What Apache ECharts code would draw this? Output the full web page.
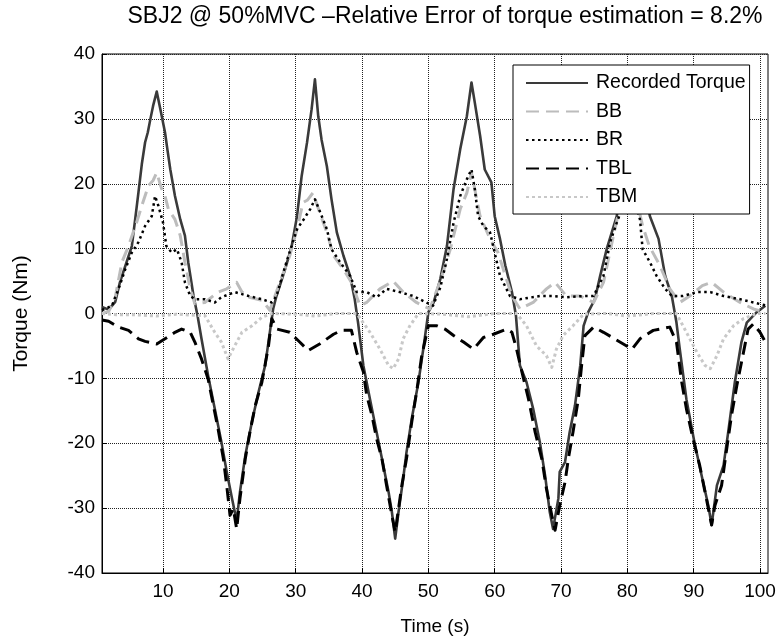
<!DOCTYPE html>
<html>
<head>
<meta charset="utf-8">
<script src="https://cdn.jsdelivr.net/npm/echarts@6/dist/echarts.min.js"></script>
<style>html,body{margin:0;padding:0;background:#fff;}#chart{width:779px;height:641px;}</style>
</head>
<body>
<div id="chart"></div>
<script>
// ---- data: [time (s), torque (Nm)] ----
const titleText = 'SBJ2 @ 50%MVC \u2013Relative Error of torque estimation = 8.2%';
const xTicks = [10, 20, 30, 40, 50, 60, 70, 80, 90, 100];
const seriesNames = ['Recorded Torque', 'BB', 'BR', 'TBL', 'TBM'];

const recordedTorque = [[0.8,1.0],[1.8,0.6],[2.8,1.8],[3.5,4.8],[4.5,7.9],[5.3,10.4],[5.8,14.5],[6.3,18.7],[6.8,23],[7.3,26.4],[7.7,27.9],[8.1,30],[8.5,32],[9.05,34.2],[9.6,31.5],[10.3,27.9],[10.7,25],[11.1,22.2],[11.8,18.1],[12.6,14.5],[13.3,12.0],[13.8,7.9],[14.6,2.7],[15.2,-0.3],[15.8,-3.9],[16.8,-9.6],[17.8,-14.7],[18.8,-19.8],[19.6,-24.4],[20.4,-28.5],[21.1,-32],[21.6,-27.5],[22.4,-21.9],[23.4,-16.7],[24.4,-12.1],[25.4,-8.0],[26.1,-2.9],[26.6,0.7],[27.1,2.7],[28.4,6.8],[29.4,10.4],[30.2,15],[30.9,21.2],[31.7,26.3],[32.4,31.5],[32.9,36.1],[33.4,30.4],[33.9,26.8],[34.7,22.7],[35.4,17.6],[36.2,12.5],[37.2,8.9],[38.2,5.8],[38.9,2.2],[39.4,-1.4],[40.2,-8],[41.2,-13.2],[42.2,-18.3],[43.2,-23.4],[44,-27.5],[44.5,-30.6],[45.0,-34.7],[45.5,-30.6],[46.2,-25.5],[46.7,-21.4],[47.5,-16.2],[48.5,-10.6],[49.3,-5.0],[50,0.2],[50.8,1.7],[51.8,5.3],[52.8,10.4],[53.8,19.2],[54.8,25.3],[55.8,30.4],[56.5,35.6],[57.0,32.5],[57.8,27.4],[58.5,22.2],[59.5,20.2],[60.0,15],[60.8,11.5],[61.6,7.4],[62.6,3.3],[63.2,-0.3],[63.8,-8],[64.8,-10.6],[65.8,-14.7],[66.8,-19.8],[67.6,-25],[68.3,-30.6],[68.8,-33.2],[69.6,-28.5],[69.8,-24.4],[70.6,-22.9],[71.3,-18.3],[72.1,-14.2],[72.9,-8],[73.4,-1.9],[74.1,0.2],[75.1,2.2],[75.9,5.8],[76.9,10],[78.4,15],[79.4,22],[80.0,28],[80.8,33.5],[81.5,28],[82.4,20],[83.4,15],[84.7,11.5],[85.7,5.8],[86.7,2.7],[87.4,-1.4],[87.9,-5.5],[88.9,-13.2],[90.1,-19.8],[91.2,-25],[92.2,-29.6],[92.7,-32.6],[93.5,-26.5],[94.5,-23.4],[95.2,-18.3],[96.2,-10.6],[97.2,-4.4],[98,-1.4],[99.5,0.2],[100.8,1.2]];

const bb = [[0.8,0],[1.8,0.3],[2.8,2.5],[3.8,7.9],[4.8,10.4],[6,14],[6.8,16.6],[7.8,19.7],[8.5,20.5],[9.05,21.7],[9.8,19.2],[10.3,18.1],[10.8,16.1],[11.8,14.5],[12.6,12],[13.3,7.9],[14.1,3.8],[14.8,1.5],[16.3,1.7],[18.3,3.3],[19.6,3.8],[21.1,4.8],[21.9,3.3],[23,2.5],[25,2],[26.1,0.5],[27.6,4.8],[29.1,8.9],[30.2,13],[31.1,17.1],[31.8,17.5],[32.6,18.6],[33.6,15.6],[34.7,12.5],[35.7,8.9],[37.2,6.8],[38.4,4.8],[39.7,1.2],[40.7,1.7],[42.7,3.8],[44.7,5.0],[46.2,3.3],[48.2,1.7],[50.2,0.7],[51.8,5],[53.3,9.9],[54.8,16.1],[55.8,18.6],[56.5,21.7],[57.8,15],[59.3,11.5],[60.5,9.4],[61.3,6.8],[62.6,2.7],[63.8,0.7],[65.8,1.7],[67.8,3.8],[69.1,4.8],[70.8,2.7],[72.9,2.7],[74.9,1.7],[76.4,4.8],[77.9,12],[79,17],[80.5,20],[81.5,17],[82.3,13.5],[83.3,10.4],[84.9,7.4],[86.4,3.8],[87.9,1.7],[89.4,2.7],[91.3,4.3],[92.7,4.8],[94.5,3.3],[97,1.7],[99,0.7],[100.8,0.2]];

const br = [[0.8,0.5],[2.3,1.2],[3.3,3.8],[4.3,6.8],[5.3,9.4],[6.3,11],[7.3,13.5],[8.3,15],[8.8,18.1],[9.3,16.6],[10.0,14],[10.5,10.4],[11.3,9.4],[12.1,9.9],[12.8,7.9],[13.3,4.8],[14.1,2.7],[14.8,2.2],[16.3,2.2],[17.8,1.7],[18.8,2.5],[20.8,3.3],[22.9,2.7],[24.9,2.2],[26.4,1.7],[27.1,2.7],[28.6,7.9],[30.2,13],[31.2,14.5],[32.2,16.1],[32.9,17.6],[33.7,15.6],[34.7,13],[35.4,9.9],[36.7,7.9],[38.2,5.8],[39.2,3.3],[40.7,3.3],[42.2,2.5],[43.7,3.8],[45.7,3.3],[47.7,2.7],[49.7,1.7],[50.7,1.2],[51.8,4],[52.8,8.4],[53.8,14],[54.8,18.1],[55.8,20.7],[56.5,22.2],[57.0,19.2],[57.5,15],[58.3,13.5],[59.3,12.5],[60.1,8.9],[60.8,5.8],[62.3,2.7],[63.8,2.2],[66.8,2.7],[68.8,2.7],[70.8,2.5],[73.4,2.7],[74.9,2.7],[76.4,5.8],[77.4,11],[78.4,14],[79.5,17],[80.3,19],[81.2,17],[81.9,14.5],[82.3,9.9],[83.4,7.9],[84.4,5.8],[85.7,3.8],[86.7,2.7],[88.4,2.7],[90.5,3.3],[92.5,3.3],[94.5,2.7],[97,2.2],[99,1.7],[101,1.2]];

const tbl = [[0.8,-1],[1.8,-1.2],[3.3,-2.1],[4.8,-2.6],[6.3,-3.9],[7.3,-4.3],[9.05,-4.7],[10.3,-3.9],[11.8,-2.9],[12.8,-2.4],[14.1,-2.9],[14.8,-4.4],[15.8,-7],[16.8,-10.1],[17.5,-13.7],[18.3,-17.8],[19.1,-22.4],[19.6,-26.5],[20.1,-31.1],[20.6,-30.1],[21.1,-33.2],[21.6,-28.5],[22.4,-22.4],[23.1,-18.3],[23.9,-14.2],[24.9,-10.6],[25.9,-5],[26.4,-0.8],[27.2,-2.4],[29.1,-2.9],[30.6,-4.4],[31.9,-5.7],[33.6,-4.7],[35.7,-3.2],[36.9,-2.6],[38.4,-2.6],[39.2,-6],[40.2,-9],[40.7,-12.6],[41.5,-15.7],[42.2,-19.3],[43,-22.4],[43.7,-26.5],[44.5,-31.1],[45.0,-33.7],[45.5,-30.1],[46,-26.5],[46.7,-22.4],[47.5,-16.7],[48.3,-11.6],[49,-6.5],[50,-1.9],[51.3,-1.9],[52.5,-2.4],[53.8,-3.4],[55.3,-4.4],[56.8,-5.5],[58.3,-3.7],[59.8,-3.2],[61.8,-2.4],[62.6,-2.9],[63.3,-5.5],[64.1,-9],[65.1,-13.2],[66.1,-18.3],[67.1,-22.4],[67.8,-27],[68.6,-31.1],[69.1,-33.4],[69.8,-29.6],[70.6,-26],[71.1,-22.4],[71.8,-18.3],[72.6,-13.2],[73.1,-8],[73.6,-3.4],[74.9,-2.1],[76.4,-2.9],[77.9,-3.8],[79.9,-5],[80.7,-5.5],[81.9,-3.9],[83.9,-2.6],[86.4,-2.1],[87.4,-4.4],[88.2,-10.6],[88.9,-14.7],[89.9,-19.3],[90.9,-23.4],[91.9,-28.5],[92.7,-32.6],[93.2,-29.6],[94.2,-26.5],[94.9,-21.4],[95.7,-15.7],[96.5,-11.1],[97.5,-6],[98.2,-2.4],[99,-1.6],[100,-2.9],[100.8,-4.4]];

const tbm = [[0.8,0],[3,-0.2],[6,-0.2],[9,-0.4],[12,-0.1],[15.3,-0.3],[16.3,-0.3],[17.8,-2.9],[18.8,-4.4],[19.8,-7],[20.8,-5],[21.9,-2.9],[23.4,-1.9],[24.9,-0.6],[26.4,0],[30,-0.1],[33,-0.4],[36,0],[39.2,0],[41.2,-2.9],[42.7,-5.5],[44,-8],[44.7,-8.5],[45.5,-7],[46.2,-3.9],[47.2,-1.9],[48.5,0],[52,-0.1],[56,-0.5],[60,0],[63.3,0],[64.8,-1.9],[66.3,-5],[67.8,-6.5],[68.6,-8.3],[69.3,-5.5],[70.3,-3.4],[71.8,-1.9],[73.4,-0.1],[77,0],[80,-0.4],[84,0],[87.4,0],[88.9,-2.9],[90.5,-6],[91.7,-8],[92.5,-8.5],[93.5,-6.5],[94.5,-3.9],[96,-1.9],[97.5,-0.8],[99.5,0],[100.8,0]];

const FONT = '"Liberation Sans", Arial, sans-serif';
const chart = echarts.init(document.getElementById('chart'), null, {renderer: 'canvas'});

function mk(name, data, color, width, type) {
  return {
    name: name, type: 'line', data: data, symbol: 'none', showSymbol: false,
    animation: false, silent: true,
    lineStyle: {color: color, width: width, type: type, cap: 'butt', join: 'round'},
    itemStyle: {color: color}
  };
}

chart.setOption({
  backgroundColor: '#fff',
  animation: false,
  title: {
    text: titleText, left: 440, top: 0, textAlign: 'center',
    textStyle: {fontFamily: FONT, fontSize: 23, fontWeight: 'normal', color: '#000'}
  },
  grid: {left: 102, right: 11, top: 54, bottom: 67, show: true, borderColor: '#000', borderWidth: 1, backgroundColor: '#fff'},
  legend: {
    orient: 'vertical', left: 513, top: 65,
    data: seriesNames,
    backgroundColor: '#fff', borderColor: '#000', borderWidth: 1, borderRadius: 0,
    padding: [8, 4, 7, 12],
    itemWidth: 62, itemHeight: 14, itemGap: 8.5,
    itemStyle: {opacity: 0},
    textStyle: {fontFamily: FONT, fontSize: 19.5, color: '#000', lineHeight: 20, padding: [0, 0, 0, 3]}
  },
  xAxis: {
    type: 'value', min: 0.8, max: 101.2,
    name: 'Time (s)', nameLocation: 'middle', nameGap: 44,
    nameTextStyle: {fontFamily: FONT, fontSize: 19, color: '#000'},
    axisLine: {show: true, onZero: false, lineStyle: {color: '#000', width: 1}},
    axisTick: {show: true, inside: true, length: 5, customValues: xTicks, lineStyle: {color: '#000'}},
    axisLabel: {customValues: xTicks, fontFamily: FONT, fontSize: 19, color: '#000', margin: 9},
    splitLine: {show: true, lineStyle: {color: '#222', width: 1, type: [1, 1]}}
  },
  yAxis: {
    type: 'value', min: -40, max: 40, interval: 10,
    name: 'Torque (Nm)', nameLocation: 'middle', nameGap: 70, nameRotate: 90,
    nameTextStyle: {fontFamily: FONT, fontSize: 21, color: '#000'},
    axisLine: {show: true, onZero: false, lineStyle: {color: '#000', width: 1}},
    axisTick: {show: true, inside: true, length: 5, lineStyle: {color: '#000'}},
    axisLabel: {fontFamily: FONT, fontSize: 19, color: '#000', margin: 7},
    splitLine: {show: true, lineStyle: {color: '#222', width: 1, type: [1, 1]}}
  },
  series: [
    mk('Recorded Torque', recordedTorque, '#3a3a3a', 2.6, 'solid'),
    mk('BB', bb, '#bcbcbc', 3, [13, 7]),
    mk('BR', br, '#000', 2.5, [2.5, 3.5]),
    mk('TBL', tbl, '#000', 3, [13, 7]),
    mk('TBM', tbm, '#c8c8c8', 3, [3, 3])
  ]
});
</script>
</body>
</html>
